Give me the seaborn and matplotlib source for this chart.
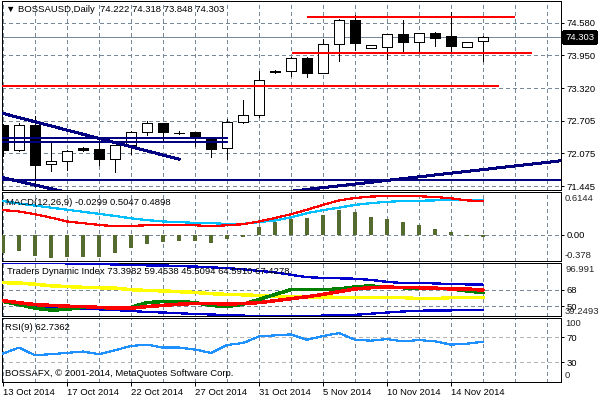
import matplotlib
matplotlib.use("Agg")
import matplotlib.pyplot as plt
import numpy as np
import pandas as pd
import seaborn as sns

# ---------------- data ----------------
bars = list(range(31))
date_ticks = [0, 4, 8, 12, 16, 20, 24, 28]
date_labels = ["13 Oct 2014", "17 Oct 2014", "22 Oct 2014", "27 Oct 2014",
               "31 Oct 2014", "5 Nov 2014", "10 Nov 2014", "14 Nov 2014"]

opens = [72.618, 72.142, 72.610, 71.864, 71.921, 72.188, 72.155, 71.970, 72.231, 72.492,
         72.650, 72.475, 72.479, 72.346, 72.188, 72.683, 72.816, 73.655, 73.647, 73.902,
         73.616, 74.170, 74.631, 74.092, 74.111, 74.365, 74.199, 74.384, 74.327, 74.111, 74.222]
highs = [72.630, 72.650, 72.790, 72.275, 72.135, 72.190, 72.359, 72.235, 72.500, 72.690,
         72.660, 72.500, 72.480, 72.397, 72.727, 73.094, 73.660, 73.670, 73.930, 73.930,
         74.270, 74.645, 74.727, 74.160, 74.370, 74.630, 74.390, 74.400, 74.790, 74.207, 74.318]
lows = [72.028, 72.120, 71.430, 71.742, 71.755, 72.120, 71.850, 71.711, 72.073, 72.420,
        72.313, 72.445, 72.218, 72.016, 71.978, 72.665, 72.778, 73.620, 73.565, 73.532,
        73.610, 73.837, 74.060, 74.090, 73.883, 73.997, 73.997, 74.136, 74.009, 74.111, 73.848]
closes = [72.142, 72.610, 71.856, 71.927, 72.130, 72.142, 71.970, 72.231, 72.492, 72.650,
          72.492, 72.468, 72.390, 72.161, 72.683, 72.816, 73.489, 73.640, 73.902, 73.616,
          74.174, 74.631, 74.180, 74.142, 74.365, 74.199, 74.384, 74.294, 74.123, 74.207, 74.303]

price_ticks = [74.580, 73.950, 73.320, 72.705, 72.075, 71.445]
price_tick_labels = ["74.580", "73.950", "73.320", "72.705", "72.075", "71.445"]
last_price = 74.303
price_range = [71.375, 74.993]

# horizontal objects: level, start bar, end bar
red_levels = [74.683, 73.990, 73.374]
red_starts = [18.98, 18.04, -1.0]
red_ends = [32.00, 33.04, 31.02]
navy_levels = [72.365, 72.294, 71.570]
navy_starts = [-1.0, -1.0, -1.0]
navy_ends = [14.04, 14.04, 36.0]
# trend lines: (x0, y0) -> (x1, y1)
trend_x0 = [-1.0, -1.0, 15.0]
trend_y0 = [72.920, 71.680, 71.247]
trend_x1 = [11.06, 5.0, 35.0]
trend_y1 = [71.960, 71.260, 71.939]

macd_hist = [-0.265, -0.235, -0.310, -0.340, -0.325, -0.315, -0.315, -0.265, -0.185, -0.125,
             -0.105, -0.085, -0.085, -0.110, -0.065, -0.025, 0.110, 0.185, 0.235, 0.250,
             0.290, 0.365, 0.325, 0.260, 0.225, 0.185, 0.140, 0.090, 0.035, -0.020, -0.0299]
macd_main = [0.490, 0.455, 0.425, 0.395, 0.365, 0.335, 0.305, 0.275, 0.240, 0.215,
             0.195, 0.185, 0.175, 0.170, 0.160, 0.160, 0.185, 0.210, 0.255, 0.315,
             0.360, 0.395, 0.435, 0.460, 0.480, 0.490, 0.495, 0.500, 0.500, 0.500, 0.5047]
macd_signal = [0.360, 0.340, 0.300, 0.250, 0.195, 0.170, 0.145, 0.125, 0.130, 0.140,
               0.145, 0.145, 0.140, 0.125, 0.140, 0.155, 0.195, 0.245, 0.300, 0.365,
               0.435, 0.500, 0.535, 0.555, 0.565, 0.565, 0.560, 0.550, 0.530, 0.500, 0.4898]
macd_range = [-0.378, 0.6144]

tdi_upper = [96.99, 96.99, 96.99, 96.99, 96.56, 96.56, 96.14, 95.28, 94.85, 94.42,
             94.42, 93.57, 93.14, 92.29, 91.43, 90.15, 88.44, 86.72, 84.16, 81.59,
             80.74, 80.31, 79.88, 78.60, 76.46, 75.18, 75.18, 74.75, 74.00, 73.70, 73.3982]
tdi_lower = [55.08, 53.79, 50.80, 48.66, 47.80, 46.95, 46.52, 45.67, 44.81, 43.53,
             43.10, 42.25, 41.39, 40.96, 40.11, 39.68, 39.25, 39.25, 39.25, 39.25,
             39.68, 40.11, 40.54, 41.80, 43.00, 44.20, 45.00, 45.30, 45.40, 45.50, 45.5094]
tdi_base = [75.60, 75.18, 73.89, 72.18, 71.33, 70.47, 70.05, 69.62, 67.91, 67.05,
            66.62, 65.77, 64.91, 63.63, 62.77, 62.35, 61.49, 60.63, 60.21, 60.21,
            60.21, 59.35, 59.35, 59.35, 59.35, 59.35, 58.07, 58.07, 59.35, 59.40, 59.4538]
tdi_price = [55.08, 51.66, 47.80, 45.67, 46.52, 48.66, 48.66, 47.38, 48.66, 53.79,
             55.08, 55.08, 53.79, 50.80, 49.52, 52.08, 57.21, 62.77, 67.91, 67.91,
             67.91, 68.76, 70.90, 72.18, 70.05, 70.05, 69.62, 69.62, 68.76, 66.62, 64.5910]
tdi_signal = [55.93, 53.79, 51.66, 50.80, 49.94, 49.52, 48.66, 47.80, 47.80, 49.52,
              50.80, 52.08, 52.94, 52.94, 52.08, 52.94, 53.79, 55.93, 58.07, 60.21,
              62.77, 65.77, 68.76, 70.05, 70.90, 70.05, 70.05, 69.62, 68.76, 68.76, 67.4278]
tdi_range = [39.2493, 96.991]

rsi_vals = [44.0, 53.4, 41.4, 43.0, 45.1, 47.1, 43.0, 49.2, 56.0, 58.1,
            53.4, 53.4, 50.3, 45.1, 57.5, 60.6, 71.0, 72.6, 74.2, 65.8,
            71.6, 76.2, 65.8, 64.3, 66.9, 63.2, 65.3, 63.2, 58.1, 59.6, 62.74]

# ---------------- style ----------------
sns.set_style("white")
plt.rcParams['font.family'] = ['Liberation Sans', 'DejaVu Sans']
plt.rcParams['lines.antialiased'] = False
plt.rcParams['patch.antialiased'] = False

W, H = 600, 400
PX = 0.72  # one pixel in points at 100 dpi
FS = 6.8
GRID = '#778899'

fig = plt.figure(figsize=(6, 4), dpi=100)
fig.patch.set_facecolor('white')


def panel(top, bottom, left=2, right=561):
    return fig.add_axes([left / W, 1 - bottom / H, (right - left) / W, (bottom - top) / H])


def ftext(x, y, s, **kw):
    fig.text(x / W, 1 - y / H, s, fontsize=FS, va='center', ha='left', color='black', **kw)


ax_main = panel(1, 190)
ax_macd = panel(192.5, 261)
ax_tdi = panel(263, 316)
ax_rsi = panel(318, 381.5)
axes = [ax_main, ax_macd, ax_tdi, ax_rsi]

xlim = (-0.0625, 34.875)
for ax in axes:
    ax.set_facecolor('white')
    ax.set_xlim(*xlim)
    for sp in ax.spines.values():
        sp.set_color('black')
        sp.set_linewidth(PX)
        sp.set_visible(True)
    for gx in range(0, 35, 2):
        ax.axvline(gx, color=GRID, lw=PX, ls=(0, (4, 3)), zorder=0.5)
    ax.yaxis.tick_right()
    ax.tick_params(axis='y', direction='out', length=2.2, width=PX, pad=2,
                   labelsize=FS, colors='black', right=True, left=False)
    ax.tick_params(axis='x', bottom=False, labelbottom=False)

# ---------------- main price panel ----------------
ax = ax_main
ax.set_ylim(*price_range)
for p in price_ticks:
    ax.axhline(p, color=GRID, lw=PX, ls=(0, (4, 3)), zorder=0.5)
ax.axhline(last_price, color=GRID, lw=PX, zorder=1)

o = np.array(opens); c = np.array(closes)
body_bottom = np.minimum(o, c)
body_h = np.maximum(np.abs(c - o), 0.004)
body_col = ['white' if cc >= oo else 'black' for oo, cc in zip(opens, closes)]
ax.vlines(bars, lows, highs, color='black', lw=PX, zorder=3)
ax.bar(bars, body_h, bottom=body_bottom, width=0.62, color=body_col,
       edgecolor='black', linewidth=PX, zorder=4)

for lvl, s, e in zip(red_levels, red_starts, red_ends):
    ax.plot([s, e], [lvl, lvl], color='#ff0000', lw=2 * PX, zorder=5, solid_capstyle='butt')
for lvl, s, e in zip(navy_levels, navy_starts, navy_ends):
    ax.plot([s, e], [lvl, lvl], color='#000080', lw=2 * PX, zorder=5, solid_capstyle='butt')
for x0, y0, x1, y1 in zip(trend_x0, trend_y0, trend_x1, trend_y1):
    ax.plot([x0, x1], [y0, y1], color='#000080', lw=2 * PX, zorder=5, solid_capstyle='butt')

ax.set_yticks(price_ticks)
ax.set_yticklabels(price_tick_labels)
ax.annotate(f"{last_price:.3f}", xy=(1, last_price), xycoords=('axes fraction', 'data'),
            xytext=(4, 0), textcoords='offset pixels', va='center', ha='left',
            fontsize=FS, color='white',
            bbox=dict(boxstyle='square,pad=0.2', fc='black', ec='black'))

# ---------------- MACD panel ----------------
ax = ax_macd
ax.set_ylim(*macd_range)
ax.axhline(0, color=GRID, lw=PX, ls=(0, (4, 3)), zorder=0.5)
ax.bar(bars, macd_hist, width=0.19, color='#556B2F', edgecolor='none',
       linewidth=0, zorder=3)
sns.lineplot(x=bars, y=macd_main, ax=ax, color='#00BFFF', lw=PX * 1.2, zorder=4)
sns.lineplot(x=bars, y=macd_signal, ax=ax, color='#ff0000', lw=PX * 1.2, zorder=4)
ax.set_yticks([0.0])
ax.set_yticklabels(["0.00"])
ax.annotate("0.6144", xy=(1, macd_range[1]), xycoords=('axes fraction', 'data'),
            xytext=(4, -2), textcoords='offset pixels', va='top', ha='left', fontsize=FS)
ax.annotate("-0.378", xy=(1, macd_range[0]), xycoords=('axes fraction', 'data'),
            xytext=(4, 1), textcoords='offset pixels', va='bottom', ha='left', fontsize=FS)

# ---------------- TDI panel ----------------
ax = ax_tdi
ax.set_ylim(*tdi_range)
for lvl in [68, 50]:
    ax.axhline(lvl, color=GRID, lw=PX, ls=(0, (4, 3)), zorder=0.5)
sns.lineplot(x=bars, y=tdi_upper, ax=ax, color='#0000CD', lw=PX * 1.3, zorder=3)
sns.lineplot(x=bars, y=tdi_lower, ax=ax, color='#0000CD', lw=PX * 1.3, zorder=3)
sns.lineplot(x=bars, y=tdi_base, ax=ax, color='#FFFF00', lw=PX * 2.5, zorder=3)
sns.lineplot(x=bars, y=tdi_price, ax=ax, color='#008000', lw=PX * 2.5, zorder=4)
sns.lineplot(x=bars, y=tdi_signal, ax=ax, color='#ff0000', lw=PX * 2.5, zorder=5)
ax.set_yticks([68, 50])
ax.set_yticklabels(["68", "50"])
ax.annotate("96.991", xy=(1, tdi_range[1]), xycoords=('axes fraction', 'data'),
            xytext=(4, -2), textcoords='offset pixels', va='top', ha='left', fontsize=FS)
ax.annotate("39.2493", xy=(1, tdi_range[0]), xycoords=('axes fraction', 'data'),
            xytext=(4, 0), textcoords='offset pixels', va='bottom', ha='left', fontsize=FS)

# ---------------- RSI panel ----------------
ax = ax_rsi
ax.set_ylim(0, 100)
for lvl in [70, 30]:
    ax.axhline(lvl, color='#b4b4b4', lw=PX, ls=(0, (4, 3)), zorder=0.5)
sns.lineplot(x=bars, y=rsi_vals, ax=ax, color='#1E90FF', lw=PX * 1.2, zorder=3)
ax.set_yticks([70, 30])
ax.set_yticklabels(["70", "30"])
ax.annotate("100", xy=(1, 100), xycoords=('axes fraction', 'data'),
            xytext=(4, -1), textcoords='offset pixels', va='top', ha='left', fontsize=FS)
ax.annotate("0", xy=(1, 0), xycoords=('axes fraction', 'data'),
            xytext=(4, 1), textcoords='offset pixels', va='bottom', ha='left', fontsize=FS)
ax.set_xticks(date_ticks)
ax.set_xticklabels(date_labels, ha='left')
ax.tick_params(axis='x', bottom=True, labelbottom=True, direction='out', length=3,
               width=PX, pad=1.5, labelsize=FS, colors='black')

for ax in axes:
    ax.set_xlabel('')
    ax.set_ylabel('')
    if ax.get_legend() is not None:
        ax.get_legend().remove()
    ax.set_xlim(*xlim)

# ---------------- titles ----------------
ftext(6, 10, "\u25BC BOSSAUSD,Daily  74.222 74.318 73.848 74.303")
ftext(6, 203, "MACD(12,26,9) -0.0299 0.5047 0.4898")
ftext(7, 272, "Traders Dynamic Index 73.3982 59.4538 45.5094 64.5910 67.4278")
ftext(5, 327.5, "RSI(9) 62.7362")
ftext(5, 373, "BOSSAFX, \u00A9 2001-2014, MetaQuotes Software Corp.")

fig.savefig("out.png", dpi=100, facecolor='white')
